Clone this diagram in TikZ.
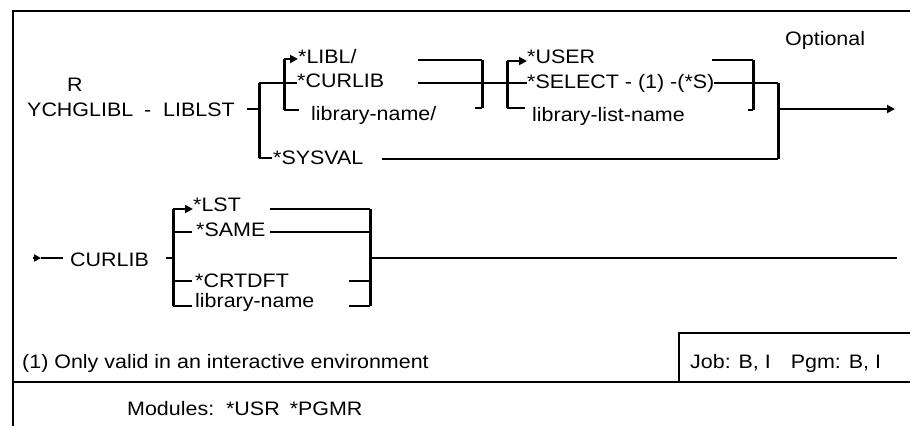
\documentclass[tikz,border=0pt]{standalone}
\usepackage{fontspec}
\setmainfont{Liberation Sans}[FakeStretch=1.1]
\usetikzlibrary{arrows.meta}
\begin{document}
\begin{tikzpicture}[x=1pt,y=-1pt,
  lbl/.style={anchor=base west, inner sep=0pt, font=\fontsize{19.5}{21}\selectfont},
  rail/.style={line width=1.9pt},
  brk/.style={line width=3pt},
  framel/.style={line width=2.3pt},
  tip/.style={-{Triangle[length=8pt,width=8pt]}}]
\useasboundingbox (0,0) rectangle (910,426);
% frame
\coordinate (ftl) at (13,11); \coordinate (ftr) at (910,11); \coordinate (fbl) at (13,426);
\draw[framel] (ftr) -- (ftl) -- (fbl);
\coordinate (sepL) at (13,382); \coordinate (sepR) at (910,382);
\draw[framel] (sepL) -- (sepR);
\coordinate (jb1) at (679,382); \coordinate (jb2) at (679,333); \coordinate (jb3) at (910,333);
\draw[framel] (jb1) -- (jb2) -- (jb3);

% ---- row 1 texts
\node[lbl] (R) at (67,91) {R};
\node[lbl] (cmd) at (27,116) {YCHGLIBL};
\node[lbl] (dash) at (144,116) {-};
\node[lbl] (kw) at (163,116) {LIBLST};
\node[lbl] (libl) at (298,63) {*LIBL/};
\node[lbl] (curlib) at (297,87) {*CURLIB};
\node[lbl] (libname) at (311,120) {library-name/};
\node[lbl] (sysval) at (273,164) {*SYSVAL};
\node[lbl] (user) at (527,63) {*USER};
\node[lbl] (select) at (527,88) {*SELECT - (1) -(*S)};
\node[lbl] (liblist) at (532,121) {library-list-name};
\node[lbl] (opt) at (785,45) {Optional};

% ---- row 1 rails
\coordinate (s1) at (247,109); \coordinate (mj) at (259,109);
\coordinate (m1) at (259,83); \coordinate (m2) at (259,158);
\draw[rail] (s1) -- (mj);
\draw[brk] (m1) -- (m2);
\coordinate (b1t) at (284,59); \coordinate (b1m) at (284,83); \coordinate (b1b) at (284,110);
\coordinate (b1a) at (298,59); \coordinate (b1c) at (297,83); \coordinate (b1s) at (299,110);
\draw[rail] (m1) -- (b1m) -- (b1c);
\draw[brk] (b1t) -- (b1b);
\draw[rail,tip] (b1t) -- (b1a);
\draw[rail] (b1b) -- (b1s);
\coordinate (l1a) at (418,60); \coordinate (l1b) at (482,60);
\coordinate (l2a) at (418,83); \coordinate (l2b) at (482,83);
\coordinate (c1b) at (482,108); \coordinate (c1s) at (475,108);
\draw[rail] (l1a) -- (l1b);
\draw[rail] (l2a) -- (l2b);
\draw[brk] (l1b) -- (c1b);
\draw[rail] (c1s) -- (c1b);
\coordinate (b2t) at (507,61); \coordinate (b2m) at (507,83); \coordinate (b2b) at (507,108);
\coordinate (b2a) at (527,61); \coordinate (b2c) at (527,83); \coordinate (b2s) at (525,108);
\draw[rail] (l2b) -- (b2m) -- (b2c);
\draw[brk] (b2t) -- (b2b);
\draw[rail,tip] (b2t) -- (b2a);
\draw[rail] (b2b) -- (b2s);
\coordinate (u1) at (712,60); \coordinate (c2t) at (753,60); \coordinate (c2b) at (753,110); \coordinate (c2s) at (748,110);
\draw[rail] (u1) -- (c2t);
\draw[brk] (c2t) -- (c2b);
\draw[rail] (c2s) -- (c2b);
\coordinate (sel1) at (714,83); \coordinate (v1) at (778,83); \coordinate (v2) at (778,159);
\coordinate (vj) at (778,109); \coordinate (outr) at (895,109);
\draw[rail] (sel1) -- (v1);
\draw[brk] (v1) -- (v2);
\coordinate (sy0) at (272,158); \coordinate (sy1) at (382,159);
\draw[rail] (m2) -- (sy0);
\draw[rail] (sy1) -- (v2);
\draw[rail,tip] (vj) -- (outr);

% ---- row 2
\coordinate (a0) at (33,258); \coordinate (a1) at (41,258); \coordinate (a2) at (63,258);
\draw[rail,-{Triangle[length=7pt,width=7pt]}] (a0) -- (a1);
\draw[rail] (a1) -- (a2);
\node[lbl] (curlib2) at (70,266) {CURLIB};
\node[lbl] (lst) at (193,211) {*LST};
\node[lbl] (same) at (196,236) {*SAME};
\node[lbl] (crtdft) at (195,287) {*CRTDFT};
\node[lbl] (libname2) at (195,307) {library-name};
\coordinate (t0) at (166,258); \coordinate (t1) at (173,258);
\draw[rail] (t0) -- (t1);
\coordinate (d1) at (173,209); \coordinate (d2) at (173,232); \coordinate (d3) at (173,281); \coordinate (d4) at (173,306);
\coordinate (e1) at (193,209); \coordinate (e2) at (192,232); \coordinate (e3) at (192,281); \coordinate (e4) at (192,306);
\draw[brk] (d1) -- (d4);
\draw[rail,tip] (d1) -- (e1);
\draw[rail] (d2) -- (e2);
\draw[rail] (d3) -- (e3);
\draw[rail] (d4) -- (e4);
\coordinate (f1) at (270,209); \coordinate (f2) at (270,232); \coordinate (f3) at (349,281); \coordinate (f4) at (349,306);
\coordinate (g1) at (370,209); \coordinate (g2) at (370,232); \coordinate (g3) at (370,281); \coordinate (g4) at (370,306);
\coordinate (gj) at (370,258); \coordinate (gout) at (897,258);
\draw[rail] (f1) -- (g1);
\draw[rail] (f2) -- (g2);
\draw[rail] (f3) -- (g3);
\draw[rail] (f4) -- (g4);
\draw[brk] (g1) -- (g4);
\draw[rail] (gj) -- (gout);

% ---- footer
\node[lbl] (note) at (22,368) {(1) Only valid in an interactive environment};
\node[lbl] (job) at (690,368) {Job: B, I\hspace{20pt}Pgm: B, I};
\node[lbl] (mods) at (127,415) {Modules:\hspace{4pt} *USR\hspace{4pt} *PGMR};
\end{tikzpicture}
\end{document}
